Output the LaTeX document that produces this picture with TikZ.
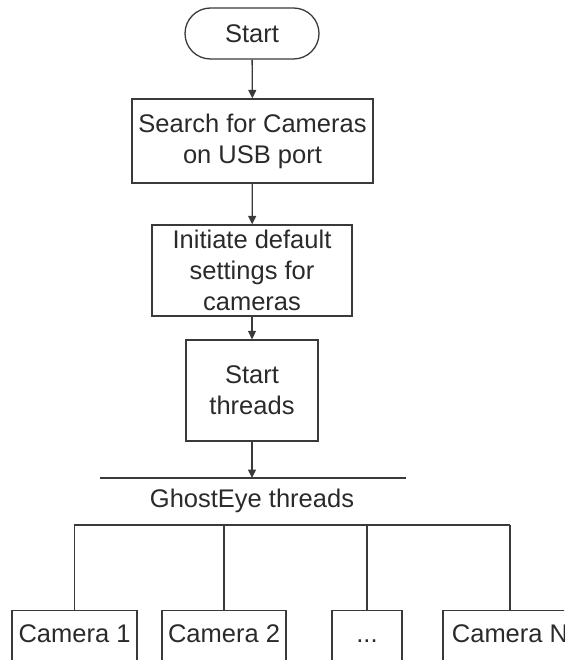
\documentclass[tikz,border=0pt]{standalone}
\usepackage{fontspec}
\setmainfont{Liberation Sans}
\usetikzlibrary{arrows.meta,shapes.misc}

\definecolor{ink}{HTML}{2A2A2A}
\definecolor{wire}{HTML}{3A3A3A}

\tikzset{
  every node/.style={font=\fontsize{25.5}{31}\selectfont, text=ink},
  procbox/.style={draw=wire, line width=1.3pt, rectangle, inner sep=0pt, align=center},
  termbox/.style={draw=wire, line width=1.3pt, rounded rectangle, inner sep=0pt,
                  minimum width=134pt, minimum height=51pt},
  cambox/.style={draw=wire, line width=1.3pt, rectangle, anchor=north,
                 inner xsep=0pt, inner ysep=7pt, text height=25pt, text depth=40pt},
  flow/.style={draw=wire, line width=1.3pt, -{Triangle[width=8pt,length=8.5pt]}},
  wireline/.style={draw=wire, line width=1.3pt},
}

\begin{document}
\begin{tikzpicture}[x=1pt, y=-1pt]
  \useasboundingbox (0,0) rectangle (564,660);
  \clip (0,0) rectangle (564,660);

  % main sequence
  \node[termbox] (start) at (252,33.5) {Start};
  \node[procbox, minimum width=241pt, minimum height=84pt] (search) at (252.5,141)
    {Search for Cameras\\on USB port};
  \node[procbox, minimum width=200pt, minimum height=91pt] (init) at (252,270.5)
    {Initiate default\\settings for\\cameras};
  \node[procbox, minimum width=132pt, minimum height=101pt] (threads) at (252,390.5)
    {Start\\threads};

  % split bar and thread label
  \coordinate (barL) at (100,478);
  \coordinate (barR) at (406,478);
  \node (label) at (252,501) {GhostEye threads};

  % distribution bus
  \coordinate (busL) at (74,525);
  \coordinate (busR) at (510,525);

  % per-camera threads
  \node[cambox, minimum width=125pt] (cam1) at (74.5,610) {Camera 1};
  \node[cambox, minimum width=124pt] (cam2) at (224,610) {Camera 2};
  \node[cambox, minimum width=70pt]  (camd) at (367,610) {...};
  \node[cambox, minimum width=134pt] (camn) at (510,610) {Camera N};

  % connectors
  \draw[flow] (start) -- (search);
  \draw[flow] (search) -- (init);
  \draw[flow] (init) -- (threads);
  \draw[flow] (threads) -- (threads.south |- barL);
  \draw[wireline] (barL) -- (barR);
  \draw[wireline] (busL) -- (busR);
  \draw[wireline] (cam1.north) -- (cam1.north |- busL);
  \draw[wireline] (cam2.north) -- (cam2.north |- busL);
  \draw[wireline] (camd.north) -- (camd.north |- busL);
  \draw[wireline] (camn.north) -- (camn.north |- busL);
\end{tikzpicture}
\end{document}
